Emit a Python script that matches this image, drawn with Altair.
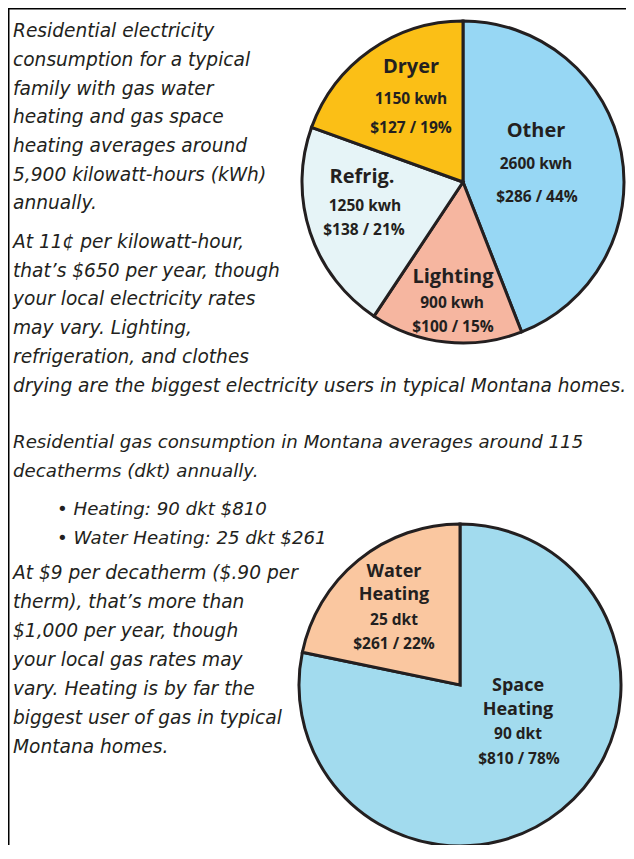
import altair as alt
import pandas as pd

# ---------------- data ----------------
elec_categories = ["Other", "Lighting", "Refrig.", "Dryer"]
elec_kwh = [2600, 900, 1250, 1150]
elec_cost = [286, 100, 138, 127]
elec_pct = [44, 15, 21, 19]
elec_colors = ["#97d7f4", "#f6b6a0", "#e6f4f7", "#fbbf16"]

gas_categories = ["Space Heating", "Water Heating"]
gas_titles = ["Space\nHeating", "Water\nHeating"]
gas_dkt = [90, 25]
gas_cost = [810, 261]
gas_pct = [78, 22]
gas_colors = ["#a2dbee", "#fac7a0"]

para_elec_1 = [
    "Residential electricity",
    "consumption for a typical",
    "family with gas water",
    "heating and gas space",
    "heating averages around",
    "5,900 kilowatt-hours (kWh)",
    "annually.",
]
para_elec_2 = [
    "At 11\u00a2 per kilowatt-hour,",
    "that\u2019s $650 per year, though",
    "your local electricity rates",
    "may vary. Lighting,",
    "refrigeration, and clothes",
    "drying are the biggest electricity users in typical Montana homes.",
]
para_gas_1 = [
    "Residential gas consumption in Montana averages around 115",
    "decatherms (dkt) annually.",
]
para_gas_bullets = [
    "\u2022 Heating: 90 dkt $810",
    "\u2022 Water Heating: 25 dkt $261",
]
para_gas_2 = [
    "At $9 per decatherm ($.90 per",
    "therm), that\u2019s more than",
    "$1,000 per year, though",
    "your local gas rates may",
    "vary. Heating is by far the",
    "biggest user of gas in typical",
    "Montana homes.",
]

# ---------------- layout ----------------
W, H = 618, 837
INK = "#231f20"
R = 161
PIE1 = (455, 174)
PIE2 = (452, 677)
BODY_FONT = "DejaVu Sans"
BODY_SIZE = 18.6
LABEL_FONT = "Open Sans"

# label line offsets from pie centre (dx, dy) for each line of each slice label
elec_label_layout = {
    "Other": [(73, -51), (73, -18), (74, 15)],
    "Lighting": [(-10, 95), (-11, 121), (-10, 145)],
    "Refrig.": [(-101, -5), (-98, 24), (-99, 48)],
    "Dryer": [(-52, -115), (-52, -83), (-52, -54)],
}
gas_label_layout = {
    "Space Heating": [(58, 1), (58, 25), (58, 49), (59, 74)],
    "Water Heating": [(-66, -113), (-66, -90), (-66, -65), (-66, -41)],
}

# ---------------- pies ----------------
elec_df = pd.DataFrame({"cat": elec_categories, "kwh": elec_kwh, "idx": list(range(len(elec_categories)))})
gas_df = pd.DataFrame({"cat": gas_categories, "dkt": gas_dkt, "idx": list(range(len(gas_categories)))})

pie1 = alt.Chart(elec_df).mark_arc(radius=R, stroke=INK, strokeWidth=3).encode(
    theta=alt.Theta("kwh:Q", stack=True),
    color=alt.Color("cat:N", scale=alt.Scale(domain=elec_categories, range=elec_colors), legend=None),
    order=alt.Order("idx:Q"),
    x=alt.value(PIE1[0]),
    y=alt.value(PIE1[1]),
)
pie2 = alt.Chart(gas_df).mark_arc(radius=R, stroke=INK, strokeWidth=3).encode(
    theta=alt.Theta("dkt:Q", stack=True),
    color=alt.Color("cat:N", scale=alt.Scale(domain=gas_categories, range=gas_colors), legend=None),
    order=alt.Order("idx:Q"),
    x=alt.value(PIE2[0]),
    y=alt.value(PIE2[1]),
)

# ---------------- slice labels ----------------
rows = []
for cat, kwh, cost, pct in zip(elec_categories, elec_kwh, elec_cost, elec_pct):
    lines = [(cat, "title1"), (f"{kwh} kwh", "detail"), (f"${cost} / {pct}%", "detail")]
    for (txt, kind), (dx, dy) in zip(lines, elec_label_layout[cat]):
        rows.append({"txt": txt, "kind": kind, "lx": PIE1[0] + dx, "ly": PIE1[1] + dy})
for cat, title, dkt, cost, pct in zip(gas_categories, gas_titles, gas_dkt, gas_cost, gas_pct):
    t1, t2 = title.split("\n")
    lines = [(t1, "title2"), (t2, "title2"), (f"{dkt} dkt", "detail"), (f"${cost} / {pct}%", "detail")]
    for (txt, kind), (dx, dy) in zip(lines, gas_label_layout[cat]):
        rows.append({"txt": txt, "kind": kind, "lx": PIE2[0] + dx, "ly": PIE2[1] + dy})
labels_df = pd.DataFrame(rows)


def label_layer(kind, size):
    return alt.Chart(labels_df).transform_filter(alt.datum.kind == kind).mark_text(
        font=LABEL_FONT, fontWeight="bold", fontSize=size, color=INK,
        align="center", baseline="middle",
    ).encode(
        x=alt.X("lx:Q", scale=None, axis=None),
        y=alt.Y("ly:Q", scale=None, axis=None),
        text="txt:N",
    )


labels = [label_layer("title1", 20), label_layer("title2", 18), label_layer("detail", 15.5)]

# ---------------- paragraphs ----------------
one = pd.DataFrame({"k": [0]})


def paragraph(lines, x, y, lh, size=BODY_SIZE):
    return alt.Chart(one).mark_text(
        font=BODY_FONT, fontStyle="italic", fontSize=size, color=INK,
        align="left", baseline="alphabetic", lineBreak="\n", lineHeight=lh,
    ).encode(x=alt.value(x), y=alt.value(y), text=alt.value("\n".join(lines)))


paras = [
    paragraph(para_elec_1, 5, 29.3, 28.7),
    paragraph(para_elec_2, 5, 240, 28.7),
    paragraph(para_gas_1, 5, 440, 29, 18.2),
    paragraph(para_gas_bullets, 49, 507, 28.5, 18.2),
    paragraph(para_gas_2, 5, 571, 29),
]

# ---------------- frame lines ----------------
top_line = alt.Chart(one).mark_rule(color="#000000", strokeWidth=3).encode(
    x=alt.value(0), x2=alt.value(W), y=alt.value(0)
)
left_line = alt.Chart(one).mark_rule(color="#000000", strokeWidth=3).encode(
    x=alt.value(0), y=alt.value(0), y2=alt.value(H)
)

chart = alt.layer(
    top_line, left_line, pie1, pie2, *labels, *paras
).resolve_scale(
    theta="independent", color="independent"
).properties(
    width=W, height=H, autosize="none", padding=0
).configure_view(stroke=None)

chart.save("out.html", embed_options={"renderer": "svg", "actions": False})
